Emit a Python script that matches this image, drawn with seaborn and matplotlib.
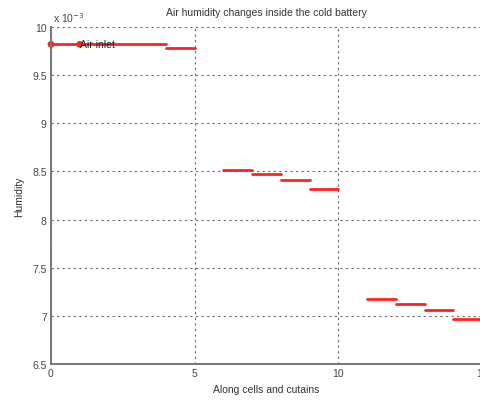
import matplotlib
matplotlib.use("Agg")
import matplotlib.pyplot as plt
import seaborn as sns
import pandas as pd
from matplotlib.ticker import FuncFormatter, MultipleLocator

# Humidity (kg/kg) in each cell / curtain segment along the cold battery
seg_start = [0, 4, 6, 7, 8, 9, 11, 12, 13, 14]
seg_end = [4, 5, 7, 8, 9, 10, 12, 13, 14, 15]
humidity = [9.82e-3, 9.78e-3, 8.51e-3, 8.47e-3, 8.41e-3, 8.32e-3,
            7.17e-3, 7.12e-3, 7.06e-3, 6.97e-3]
inlet_x = [0, 1]
inlet_h = [9.82e-3, 9.82e-3]

rows = []
for i, (a, b, h) in enumerate(zip(seg_start, seg_end, humidity)):
    rows.append({"seg": i, "x": a, "h": h})
    rows.append({"seg": i, "x": b, "h": h})
df = pd.DataFrame(rows)

sns.set_style("white")
plt.rcParams["font.family"] = ["Liberation Sans", "DejaVu Sans"]

fig = plt.figure(figsize=(4.8, 4.02), dpi=100)
ax = fig.add_axes([51 / 480, 1 - 365 / 402, 431 / 480, 337 / 402])

sns.lineplot(data=df, x="x", y="h", units="seg", estimator=None,
             color="#ff2020", linewidth=2.0, ax=ax, legend=False)
pts = sns.scatterplot(x=inlet_x, y=inlet_h, color="#ff2020", s=24,
                      edgecolor="none", ax=ax, legend=False)
for coll in ax.collections:
    coll.set_clip_on(False)
ax.text(1, inlet_h[1], "Air inlet", fontsize=7.5, va="center", ha="left",
        color="#222222")

ax.set_xlim(0, 15)
ax.set_ylim(6.5e-3, 10e-3)
ax.xaxis.set_major_locator(MultipleLocator(5))
ax.yaxis.set_major_locator(MultipleLocator(0.5e-3))
ax.yaxis.set_major_formatter(FuncFormatter(lambda v, p: f"{v * 1e3:g}"))

ax.grid(True, color="#666666", linestyle=(0, (2, 3)), linewidth=0.8)
for s in ["top", "right"]:
    ax.spines[s].set_visible(False)
for s in ["left", "bottom"]:
    ax.spines[s].set_color("#777777")
    ax.spines[s].set_linewidth(1.4)
ax.tick_params(axis="both", labelsize=7.5, colors="#444444", length=2,
               direction="in", pad=3)

ax.set_xlabel("Along cells and cutains", fontsize=7.5, color="#333333",
              labelpad=4)
ax.set_ylabel("Humidity", fontsize=7.5, color="#333333", labelpad=6)
ax.set_title("Air humidity changes inside the cold battery", fontsize=7.5,
             color="#333333", pad=9)
ax.text(0.005, 1.01, r"x 10$^{-3}$", transform=ax.transAxes, fontsize=7.5,
        color="#444444", ha="left", va="bottom")

fig.savefig("out.png", dpi=100, facecolor="white")
